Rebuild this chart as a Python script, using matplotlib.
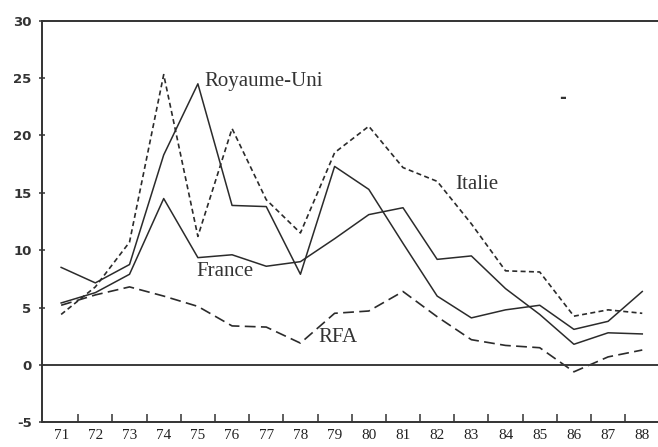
import matplotlib
matplotlib.use("Agg")
import matplotlib.pyplot as plt
import numpy as np

years = list(range(71, 89))
year_labels = [str(y) for y in years]

royaume_uni = [8.5, 7.15, 8.75, 18.3, 24.5, 13.9, 13.8, 7.9, 17.3, 15.3, 10.6, 6.0, 4.1, 4.8, 5.2, 3.1, 3.8, 6.4]
italie = [4.4, 6.8, 10.7, 25.3, 11.2, 20.6, 14.4, 11.5, 18.5, 20.8, 17.2, 16.0, 12.3, 8.2, 8.1, 4.25, 4.8, 4.5]
france = [5.4, 6.3, 7.9, 14.5, 9.35, 9.6, 8.6, 9.0, 11.0, 13.1, 13.7, 9.2, 9.5, 6.65, 4.4, 1.8, 2.8, 2.7]
rfa = [5.2, 6.1, 6.8, 6.0, 5.1, 3.4, 3.3, 1.9, 4.5, 4.7, 6.4, 4.2, 2.2, 1.7, 1.5, -0.6, 0.7, 1.3]

y_ticks = [-5, 0, 5, 10, 15, 20, 25, 30]

W, H = 658, 447
fig = plt.figure(figsize=(W / 100, H / 100), dpi=100)
ax = fig.add_axes([42 / W, (H - 422.3) / H, (W - 42) / W, (422.3 - 20.7) / H])

col = "#2b2b2b"
ax.plot(years, royaume_uni, color=col, lw=1.1, linestyle="-")
ax.plot(years, france, color=col, lw=1.1, linestyle="-")
ax.plot(years, italie, color=col, lw=1.2, linestyle=(0, (3.0, 2.0)))
ax.plot(years, rfa, color=col, lw=1.2, linestyle=(0, (6.5, 3.2)))
ax.axhline(0, color="#3a3a3a", lw=1.4)

ax.set_xlim(70.44, 88.46)
ax.set_ylim(-5, 30)

ax.spines["right"].set_visible(False)
for s in ["left", "top", "bottom"]:
    ax.spines[s].set_color("#333333")
    ax.spines[s].set_linewidth(1.4)

ax.set_yticks(y_ticks)
ax.set_yticklabels([str(v) for v in y_ticks], fontfamily="DejaVu Sans",
                   fontweight="bold", fontsize=9.5, color="#222222")
ax.tick_params(axis="y", direction="inout", length=5, width=1.1, pad=5, colors="#333333")

ax.set_xticks(years)
ax.set_xticklabels(year_labels, fontfamily="Liberation Serif", fontsize=11, color="#222222")
ax.tick_params(axis="x", which="major", length=0, pad=5)
ax.set_xticks([y + 0.5 for y in years[:-1]], minor=True)
ax.tick_params(axis="x", which="minor", direction="in", length=6, width=1.1, colors="#333333")

tkw = dict(fontfamily="Liberation Serif", fontsize=15, color="#333333", va="center", ha="left")
ax.text(75.18, 24.7, "Royaume-Uni", **tkw)
ax.text(82.52, 15.7, "Italie", **tkw)
ax.text(74.95, 8.16, "France", **tkw)
ax.text(78.52, 2.4, "RFA", **tkw)
ax.text(85.68, 23.3, "-", fontfamily="DejaVu Sans", fontsize=12, fontweight="bold",
        color="#333333", ha="center", va="center")

fig.savefig("out.png", dpi=100)
